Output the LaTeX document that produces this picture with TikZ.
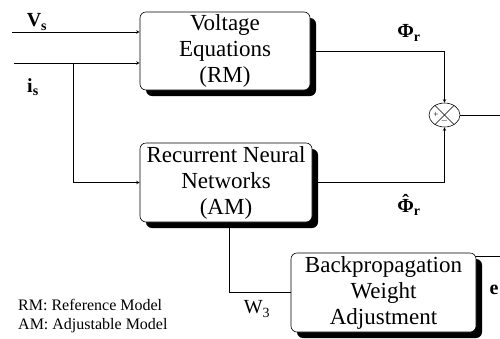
\documentclass[tikz,border=0pt]{standalone}
\usepackage{fontspec}
\setmainfont{Liberation Serif}
\usepackage{tikz}
\usetikzlibrary{shapes,arrows,positioning,calc,shadows}

\begin{document}
\begin{tikzpicture}[x=1pt, y=-1pt,
    block/.style={rectangle, draw, line width=0.6pt, rounded corners=6pt, fill=white, align=center, inner sep=0pt, font=\fontsize{23}{26}\selectfont, drop shadow={shadow xshift=6pt, shadow yshift=-6pt, fill=black, opacity=1}},
    sumnode/.style={ellipse, draw, line width=0.6pt, minimum width=31pt, minimum height=24pt, inner sep=0pt},
    signal/.style={font=\fontsize{20}{22}\selectfont\bfseries},
    arrow/.style={->, >=stealth, line width=0.6pt},
    line/.style={line width=0.6pt}
]
\useasboundingbox (0,0) rectangle (500,338);

% Blocks
\node[block, minimum width=170pt, minimum height=78pt] (volt) at (225, 51) {Voltage\\Equations\\(RM)};
\node[block, minimum width=172pt, minimum height=79pt] (rnn) at (226, 182.5) {Recurrent Neural\\Networks\\(AM)};
\node[block, minimum width=185pt, minimum height=79pt] (bp) at (383.5, 292.5) {Backpropagation\\Weight\\Adjustment};

% Summing junction
\node[sumnode] (sum) at (444.5, 115) {};
\draw[line] (sum.45) -- (sum.225);
\draw[line] (sum.135) -- (sum.315);
\node[font=\fontsize{9}{9}\selectfont, inner sep=0pt] (plus) at ([xshift=-8.5pt]sum.center) {+};
\node[font=\fontsize{9}{9}\selectfont, inner sep=0pt] (minus) at ([yshift=-6.5pt]sum.center) {$-$};

% Inputs
\coordinate (vsin) at (12, 32);
\coordinate (isin) at (14, 63);
\coordinate (br) at (73, 63);
\node[signal] (vs) at (37, 22) {V\textsubscript{s}};
\node[signal] (is) at (33, 87) {i\textsubscript{s}};
\draw[arrow] (vsin) -- (vsin -| volt.west);
\draw[arrow] (isin) -- (isin -| volt.west);
\draw[arrow] (br) |- (rnn.west);

% Model outputs
\draw[arrow] (volt.east) -| (sum.north);
\draw[arrow] (rnn.east) -| (sum.south);
\node[signal] (phir) at (409, 33) {Φ\textsubscript{r}};
\node[signal] (phihat) at (409, 205) {{\accent"02C6 Φ}\textsubscript{r}};

% Error and weights
\coordinate (out) at (500, 115);
\coordinate (eout) at (500, 256);
\draw[line] (sum.east) -- (out);
\draw[line] (eout -| bp.east) -- (eout);
\node[signal] (e) at (494, 290) {e};
\draw[line] ([xshift=3pt]rnn.south) |- (bp.west);
\node[font=\fontsize{20}{22}\selectfont] (w3) at (257, 309) {W\textsubscript{3}};

% Legend
\node[anchor=west, align=left, inner sep=0pt, font=\fontsize{16}{19}\selectfont] (legend) at (18, 316) {RM: Reference Model\\AM: Adjustable Model};

\end{tikzpicture}
\end{document}
